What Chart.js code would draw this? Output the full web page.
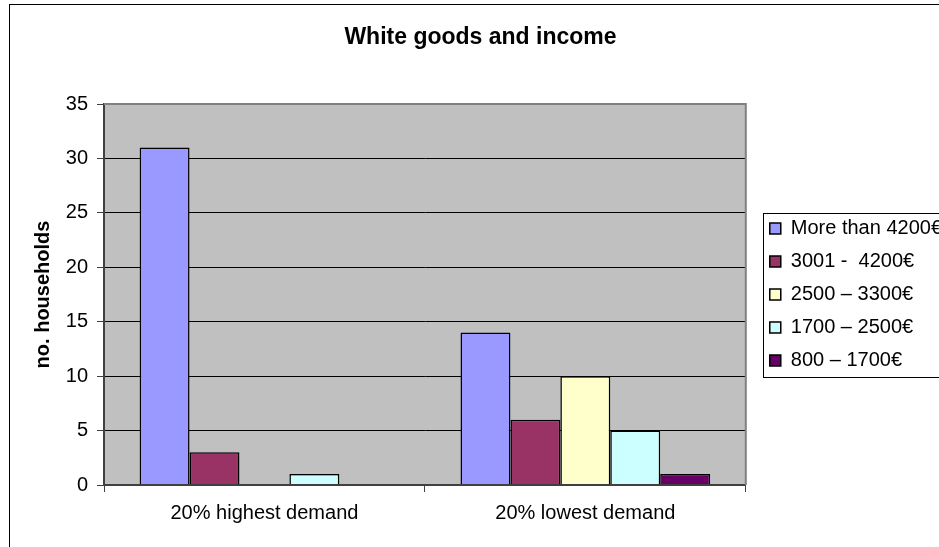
<!DOCTYPE html>
<html>
<head>
<meta charset="utf-8">
<title>White goods and income</title>
<script src="https://cdn.jsdelivr.net/npm/chart.js@4/dist/chart.umd.min.js"></script>
<style>
  html, body { margin: 0; padding: 0; background: #fff; overflow: hidden; width: 939px; height: 547px; }
  #frame { position: absolute; left: 9px; top: 4px; width: 1000px; height: 600px; border: 1px solid #000; box-sizing: border-box; }
  #chart { position: absolute; left: 9px; top: 4px; }
</style>
</head>
<body>
<div id="frame"></div>
<canvas id="chart" width="943" height="543"></canvas>
<script>
// chart data
var categories = ['20% highest demand', '20% lowest demand'];
var seriesNames = ['More than 4200€', '3001 -  4200€', '2500 – 3300€', '1700 – 2500€', '800 – 1700€'];
var over4200 = [31, 14];
var from3001 = [3, 6];
var from2500 = [0, 10];
var from1700 = [1, 5];
var from800 = [0, 1];
var seriesColors = ['#9999FF', '#993366', '#FFFFCC', '#CCFFFF', '#660066'];
var yTicks = [0, 5, 10, 15, 20, 25, 30, 35];

var FONT = 'Liberation Sans, Arial, sans-serif';
Chart.defaults.font.family = FONT;
Chart.defaults.color = '#000';

var seriesValues = [over4200, from3001, from2500, from1700, from800];
var datasets = seriesNames.map(function(name, i) {
  return {
    label: name,
    data: seriesValues[i],
    backgroundColor: seriesColors[i],
    borderColor: '#000',
    borderWidth: 1.5,
    categoryPercentage: 0.778,
    barPercentage: 1.0
  };
});

// grey plot area + grey top/right edge, box round the legend
var plotArea = {
  id: 'plotArea',
  beforeDraw: function(chart) {
    var a = chart.chartArea, ctx = chart.ctx;
    ctx.save();
    ctx.fillStyle = '#C0C0C0';
    ctx.fillRect(a.left, a.top, a.right - a.left, a.bottom - a.top);
    ctx.restore();
  },
  afterDraw: function(chart) {
    var a = chart.chartArea, ctx = chart.ctx, lg = chart.legend;
    ctx.save();
    ctx.strokeStyle = '#808080';
    ctx.lineWidth = 2;
    ctx.beginPath();
    ctx.moveTo(a.left, a.top);
    ctx.lineTo(a.right, a.top);
    ctx.lineTo(a.right, a.bottom);
    ctx.stroke();
    var mid = (lg.top + lg.bottom) / 2;
    ctx.strokeStyle = '#000';
    ctx.lineWidth = 1;
    ctx.strokeRect(Math.round(lg.left + 6) + 0.5, Math.round(mid - 82) + 0.5, 400, 164);
    ctx.restore();
  }
};

new Chart(document.getElementById('chart'), {
  type: 'bar',
  data: { labels: categories, datasets: datasets },
  options: {
    responsive: false,
    animation: false,
    devicePixelRatio: 1,
    layout: { padding: 0 },
    plugins: {
      title: {
        display: true,
        text: 'White goods and income',
        color: '#000',
        font: { size: 23, weight: 'bold', family: FONT },
        padding: { top: 20, bottom: 52.4 }
      },
      legend: {
        position: 'right',
        fullSize: false,
        align: 'center',
        maxWidth: 400,
        labels: {
          boxWidth: 11,
          boxHeight: 11,
          padding: 13,
          color: '#000',
          font: { size: 20, family: FONT }
        }
      },
      tooltip: { enabled: false }
    },
    scales: {
      x: {
        grid: { drawOnChartArea: false, drawTicks: true, tickLength: 7, color: '#404040', lineWidth: 1 },
        border: { color: '#404040', width: 2, z: 1 },
        ticks: { padding: 9, color: '#000', font: { size: 20, family: FONT }, maxRotation: 0 },
        afterFit: function(s) { s.height = 62; }
      },
      y: {
        min: 0,
        max: 35,
        afterBuildTicks: function(s) { s.ticks = yTicks.map(function(v) { return { value: v }; }); },
        grid: { color: '#000', lineWidth: 1, tickLength: 7, tickColor: '#404040' },
        border: { color: '#404040', width: 2, z: 1 },
        ticks: { padding: 9, color: '#000', font: { size: 20, family: FONT } },
        title: {
          display: true,
          text: 'no. households',
          color: '#000',
          font: { size: 20, weight: 'bold', family: FONT },
          padding: { top: 22, bottom: 0 }
        },
        afterFit: function(s) { s.width = 95; }
      },
      // empty scale that keeps a gap between the plot and the legend
      gap: {
        type: 'linear',
        position: 'right',
        display: true,
        grid: { display: false },
        border: { display: false },
        ticks: { display: false },
        afterFit: function(s) { s.width = 11; }
      }
    }
  },
  plugins: [plotArea]
});
</script>
</body>
</html>
